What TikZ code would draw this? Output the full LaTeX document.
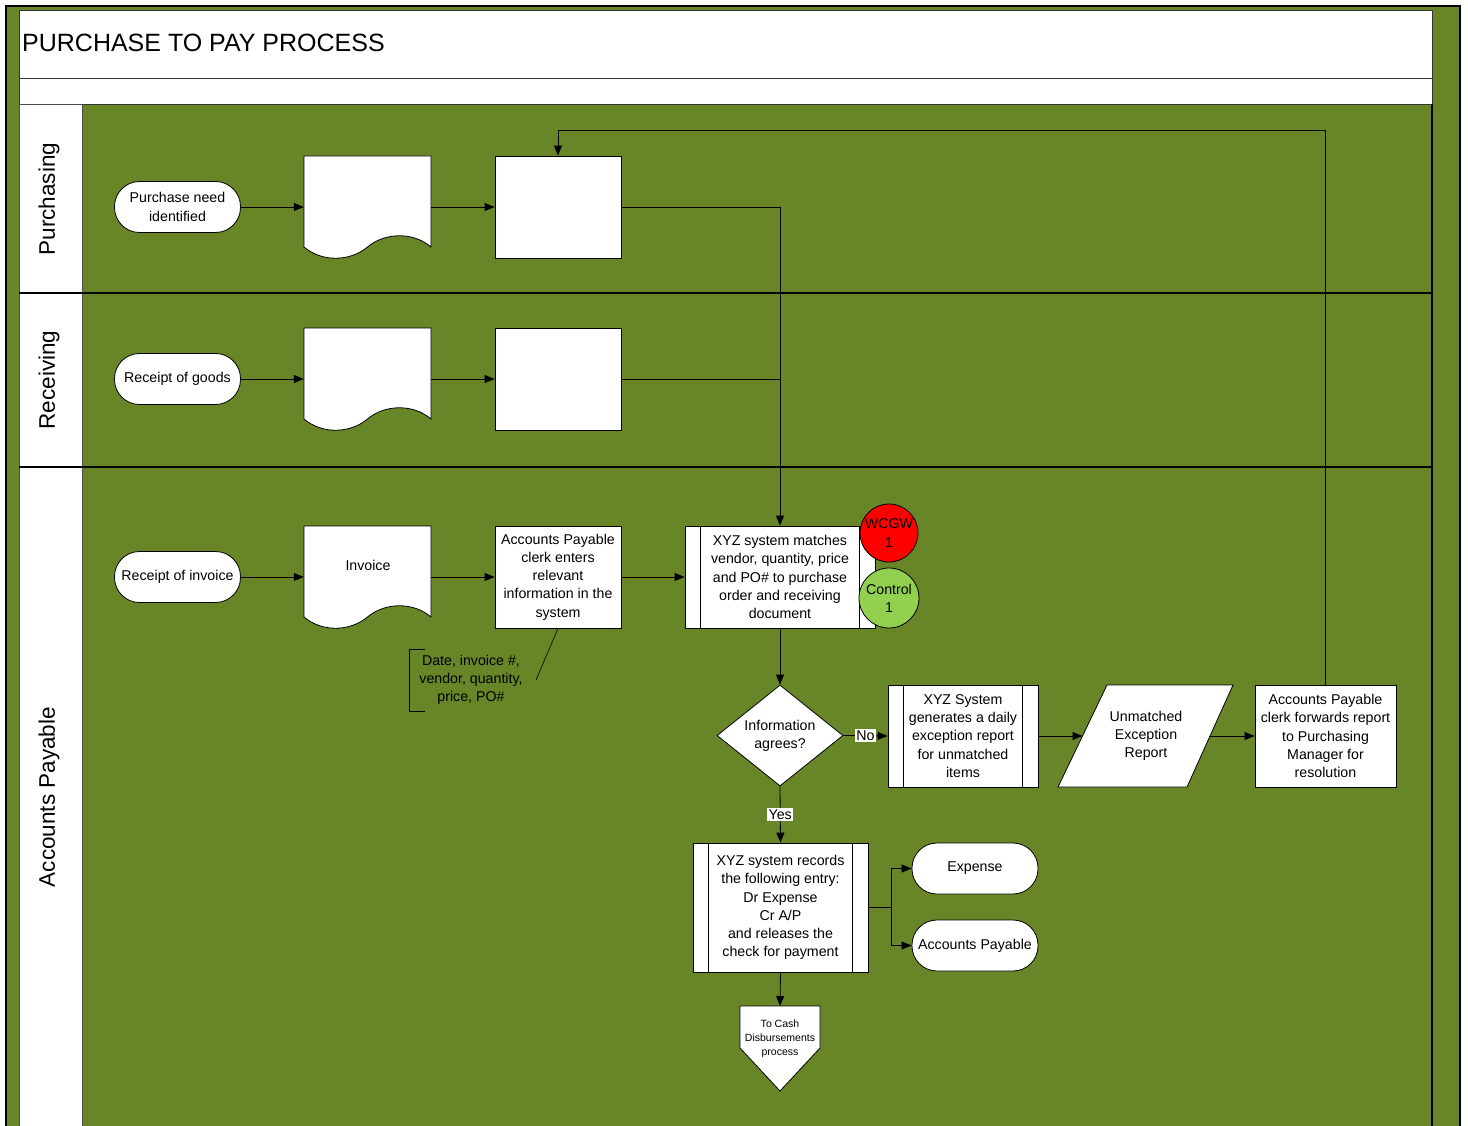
\documentclass[tikz,border=0pt]{standalone}
\usepackage{fontspec}
\setmainfont{Liberation Sans}
\usetikzlibrary{arrows.meta,shapes.geometric}
\definecolor{lanegreen}{RGB}{104,133,40}
\definecolor{wcgwred}{RGB}{255,0,0}
\definecolor{ctrlgreen}{RGB}{146,208,80}
\newcommand\nodefnt{\fontsize{14.2}{18.2}\selectfont}
\newcommand\smallfnt{\fontsize{10.5}{14}\selectfont}
\newcommand\lanefnt{\fontsize{22.5}{26}\selectfont}
\newcommand\titlefnt{\fontsize{25}{30}\selectfont}
\begin{document}
\begin{tikzpicture}[x=1pt,y=-1pt,
  box/.style={draw=black, fill=white, line width=0.8pt, align=center, font=\nodefont, inner sep=1pt},
  term/.style={box, rounded corners=25pt, minimum width=126pt, minimum height=51pt},
  procbox/.style={box, minimum width=126pt, minimum height=102pt},
  arr/.style={-{Triangle[length=10pt,width=8pt]}, line width=0.8pt},
  ln/.style={line width=0.8pt},
  txt/.style={align=center, font=\nodefnt, inner sep=0pt},
  yn/.style={fill=white, font=\nodefnt, inner sep=1.5pt},
  docpic/.pic={\draw[fill=white, line width=0.8pt] (-63.5,-51) -- (63.5,-51) -- (63.5,40)
     .. controls (46,25) and (18,25) .. (0,40)
     .. controls (-18,55) and (-46,55) .. (-63.5,40) -- cycle;}
]
\let\nodefont\nodefnt
\useasboundingbox (0,0) rectangle (1468,1126);
% background and frame
\fill[lanegreen] (6,6) rectangle (1460,1126);
\draw[line width=2pt] (6,1126) -- (6,6) -- (1460,6) -- (1460,1126);
\draw[fill=white, draw=black!80, line width=0.8pt] (19,10) rectangle (1432,78);
\draw[fill=white, draw=black!80, line width=0.8pt] (19,78) rectangle (1432,104);
\draw[fill=white, draw=black!70, line width=0.8pt] (19,104) rectangle (82,293);
\draw[fill=white, draw=black!70, line width=0.8pt] (19,293) rectangle (82,467);
\draw[fill=white, draw=black!70, line width=0.8pt] (19,467) rectangle (82,1127);
\draw[line width=1.2pt] (19,293) -- (1432,293);
\draw[line width=1.2pt] (19,467) -- (1432,467);
\draw[line width=1.5pt] (1432,104) -- (1432,1127);
\node[anchor=base west, font=\titlefnt, inner sep=0pt] (title) at (22,52) {PURCHASE TO PAY PROCESS};
\node[rotate=90, font=\lanefnt, inner sep=0pt] (lp) at (49,199) {Purchasing};
\node[rotate=90, font=\lanefnt, inner sep=0pt] (lr) at (49,380) {Receiving};
\node[rotate=90, font=\lanefnt, inner sep=0pt] (la) at (49,797) {Accounts Payable};

% Purchasing lane
\node[term] (t1) at (177.5,207) {Purchase need\\identified};
\pic at (367.5,207) {docpic};
\node[minimum width=127pt, minimum height=102pt, inner sep=0pt] (d1) at (367.5,207) {};
\node[procbox] (r1) at (558,207) {};
% Receiving lane
\node[term] (t2) at (177.5,379) {Receipt of goods};
\pic at (367.5,379) {docpic};
\node[minimum width=127pt, minimum height=102pt, inner sep=0pt] (d2) at (367.5,379) {};
\node[procbox] (r2) at (558,379) {};
% Accounts payable lane
\node[term] (t3) at (177.5,577) {Receipt of invoice};
\pic at (367.5,577) {docpic};
\node[minimum width=127pt, minimum height=102pt, inner sep=0pt] (d3) at (367.5,577) {};
\node[txt] (d3t) at (368,565) {Invoice};
\node[procbox] (a3) at (558,577) {Accounts Payable\\clerk enters\\relevant\\information in the\\system};
\node[box, minimum width=190pt, minimum height=102pt] (m1) at (780,577) {XYZ system matches\\vendor, quantity, price\\and PO\# to purchase\\order and receiving\\document};
\draw[line width=0.8pt] ([xshift=16pt]m1.north west) -- ([xshift=16pt]m1.south west);
\draw[line width=0.8pt] ([xshift=-16pt]m1.north east) -- ([xshift=-16pt]m1.south east);
\node[circle, draw=black, line width=0.8pt, fill=wcgwred, minimum size=58pt, inner sep=0pt, align=center, font=\nodefnt] (w1) at (889,533) {WCGW\\1};
\node[circle, draw=black, line width=0.8pt, fill=ctrlgreen, minimum size=60pt, inner sep=0pt, align=center, font=\nodefnt] (c1) at (889,598) {Control\\1};

% annotation
\draw[ln] (425,649) -- (409,649) -- (409,711) -- (425,711);
\node[txt] (ann) at (471,680) {Date, invoice \#,\\vendor, quantity,\\price, PO\#};
\coordinate (annend) at (536,680);
\draw[line width=0.6pt] (annend) -- (a3.south);

% decision and exception path
\node[diamond, draw=black, fill=white, line width=0.8pt, minimum width=126pt, minimum height=101pt, inner sep=0pt, aspect=1.25, align=center, font=\nodefnt] (dec) at (780,735.5) {Information\\agrees?};
\node[box, minimum width=150pt, minimum height=102pt] (x1) at (963,736) {XYZ System\\generates a daily\\exception report\\for unmatched\\items};
\draw[line width=0.8pt] ([xshift=16pt]x1.north west) -- ([xshift=16pt]x1.south west);
\draw[line width=0.8pt] ([xshift=-16pt]x1.north east) -- ([xshift=-16pt]x1.south east);
\draw[fill=white, line width=0.8pt] (1058,787) -- (1107,685) -- (1233,685) -- (1187,787) -- cycle;
\node[txt] (uer) at (1146,736) {Unmatched\\Exception\\Report};
\coordinate (pl) at (1082.5,736);
\coordinate (prr) at (1210,736);
\node[box, minimum width=141pt, minimum height=102pt] (f1) at (1325.5,736) {Accounts Payable\\clerk forwards report\\to Purchasing\\Manager for\\resolution};
\coordinate (fb) at (1325.5,130);

% records
\node[box, minimum width=175pt, minimum height=129pt] (r3) at (780.5,907.5) {XYZ system records\\the following entry:\\Dr Expense\\Cr A/P\\and releases the\\check for payment};
\draw[line width=0.8pt] ([xshift=16pt]r3.north west) -- ([xshift=16pt]r3.south west);
\draw[line width=0.8pt] ([xshift=-16pt]r3.north east) -- ([xshift=-16pt]r3.south east);
\node[term] (e1) at (975,868.5) {Expense};
\node[term] (e2) at (975,945.5) {Accounts Payable};
\coordinate (br) at (891,907.5);

% off-page connector
\draw[fill=white, line width=0.8pt] (740,1006) -- (820,1006) -- (820,1048) -- (780,1091) -- (740,1048) -- cycle;
\node[align=center, font=\smallfnt, inner sep=0pt] (op) at (780,1039) {To Cash\\Disbursements\\process};
\coordinate (opt) at (780,1006);

% connectors
\draw[arr] (t1) -- (d1);
\draw[arr] (d1) -- (r1);
\draw[arr] (t2) -- (d2);
\draw[arr] (d2) -- (r2);
\draw[arr] (t3) -- (d3);
\draw[arr] (d3) -- (a3);
\draw[arr] (a3) -- (m1);
\draw[arr] (r1.east) -| (m1.north);
\draw[ln] (r2.east) -- (r2.east -| m1.north);
\draw[arr] (m1.south) -- (dec.north);
\draw[arr] (dec.east) -- node[yn]{No} (x1.west);
\draw[arr] (dec.south) -- node[yn]{Yes} (r3.north);
\draw[arr] (x1.east) -- (pl);
\draw[arr] (prr) -- (f1.west);
\draw[arr] (f1.north) -- (fb) -| (r1.north);
\draw[ln] (r3.east) -- (br);
\draw[arr] (br) |- (e1.west);
\draw[arr] (br) |- (e2.west);
\draw[arr] (r3.south) -- (opt);
\end{tikzpicture}
\end{document}
